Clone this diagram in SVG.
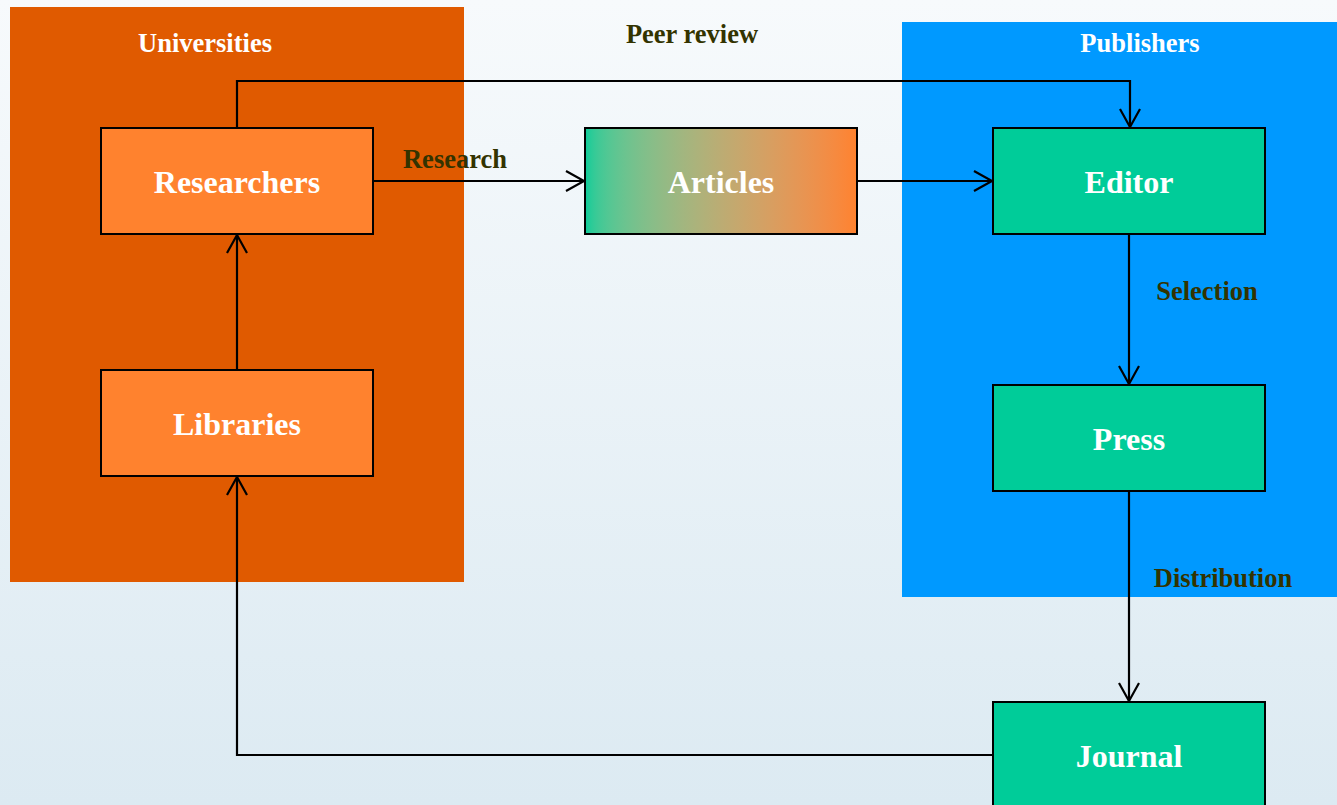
<svg xmlns="http://www.w3.org/2000/svg" width="1337" height="805" viewBox="0 0 1337 805">
<defs>
<linearGradient id="bg" x1="0" y1="0" x2="0" y2="1">
<stop offset="0" stop-color="#F7FAFC"/>
<stop offset="1" stop-color="#DCEAF2"/>
</linearGradient>
<linearGradient id="art" x1="0" y1="0" x2="1" y2="0" color-interpolation="linearRGB">
<stop offset="0" stop-color="#00CC99"/>
<stop offset="1" stop-color="#FF822E"/>
</linearGradient>
<marker id="ah" markerWidth="22" markerHeight="24" refX="19" refY="12" orient="auto" markerUnits="userSpaceOnUse">
<path d="M1,2 L19,12 L1,22" fill="none" stroke="#000" stroke-width="2.2"/>
</marker>
<style>
.node rect{stroke:#000;stroke-width:2}
.ntext{font-family:"Liberation Serif","Times New Roman",serif;font-weight:bold;font-size:32px;fill:#fff;text-anchor:middle}
.ctext{font-family:"Liberation Serif","Times New Roman",serif;font-weight:bold;font-size:26.5px;fill:#fff;text-anchor:middle}
.etext{font-family:"Liberation Serif","Times New Roman",serif;font-weight:bold;font-size:26.5px;fill:#333300;text-anchor:middle}
.edge{fill:none;stroke:#000;stroke-width:2.2;marker-end:url(#ah)}
</style>
</defs>
<rect x="0" y="0" width="1337" height="805" fill="url(#bg)"/>
<g id="cluster_universities">
<rect x="10" y="7" width="454" height="575" fill="#E05A00"/>
<text class="ctext" x="205" y="52">Universities</text>
</g>
<g id="cluster_publishers">
<rect x="902" y="22" width="445" height="575" fill="#0099FF"/>
<text class="ctext" x="1140" y="52">Publishers</text>
</g>
<g id="connectors">
<path class="edge" d="M373,181 L584,181"/>
<path class="edge" d="M857,181 L992,181"/>
<path class="edge" d="M237,128 L237,81 L1130,81 L1130,127"/>
<path class="edge" d="M1129,234 L1129,384"/>
<path class="edge" d="M1129,491 L1129,701"/>
<path class="edge" d="M993,755 L237,755 L237,477"/>
<path class="edge" d="M237,370 L237,235"/>
<text class="etext" x="455" y="168">Research</text>
<text class="etext" x="692" y="43">Peer review</text>
<text class="etext" x="1207" y="300">Selection</text>
<text class="etext" x="1223" y="587">Distribution</text>
</g>
<g id="researchers" class="node">
<rect x="101" y="128" width="272" height="106" fill="#FF822E"/>
<text class="ntext" x="237" y="193">Researchers</text>
</g>
<g id="libraries" class="node">
<rect x="101" y="370" width="272" height="106" fill="#FF822E"/>
<text class="ntext" x="237" y="435">Libraries</text>
</g>
<g id="articles" class="node">
<rect x="585" y="128" width="272" height="106" fill="url(#art)"/>
<text class="ntext" x="721" y="193">Articles</text>
</g>
<g id="editor" class="node">
<rect x="993" y="128" width="272" height="106" fill="#00CC99"/>
<text class="ntext" x="1129" y="193">Editor</text>
</g>
<g id="press" class="node">
<rect x="993" y="385" width="272" height="106" fill="#00CC99"/>
<text class="ntext" x="1129" y="450">Press</text>
</g>
<g id="journal" class="node">
<rect x="993" y="702" width="272" height="110" fill="#00CC99"/>
<text class="ntext" x="1129" y="767">Journal</text>
</g>
</svg>
